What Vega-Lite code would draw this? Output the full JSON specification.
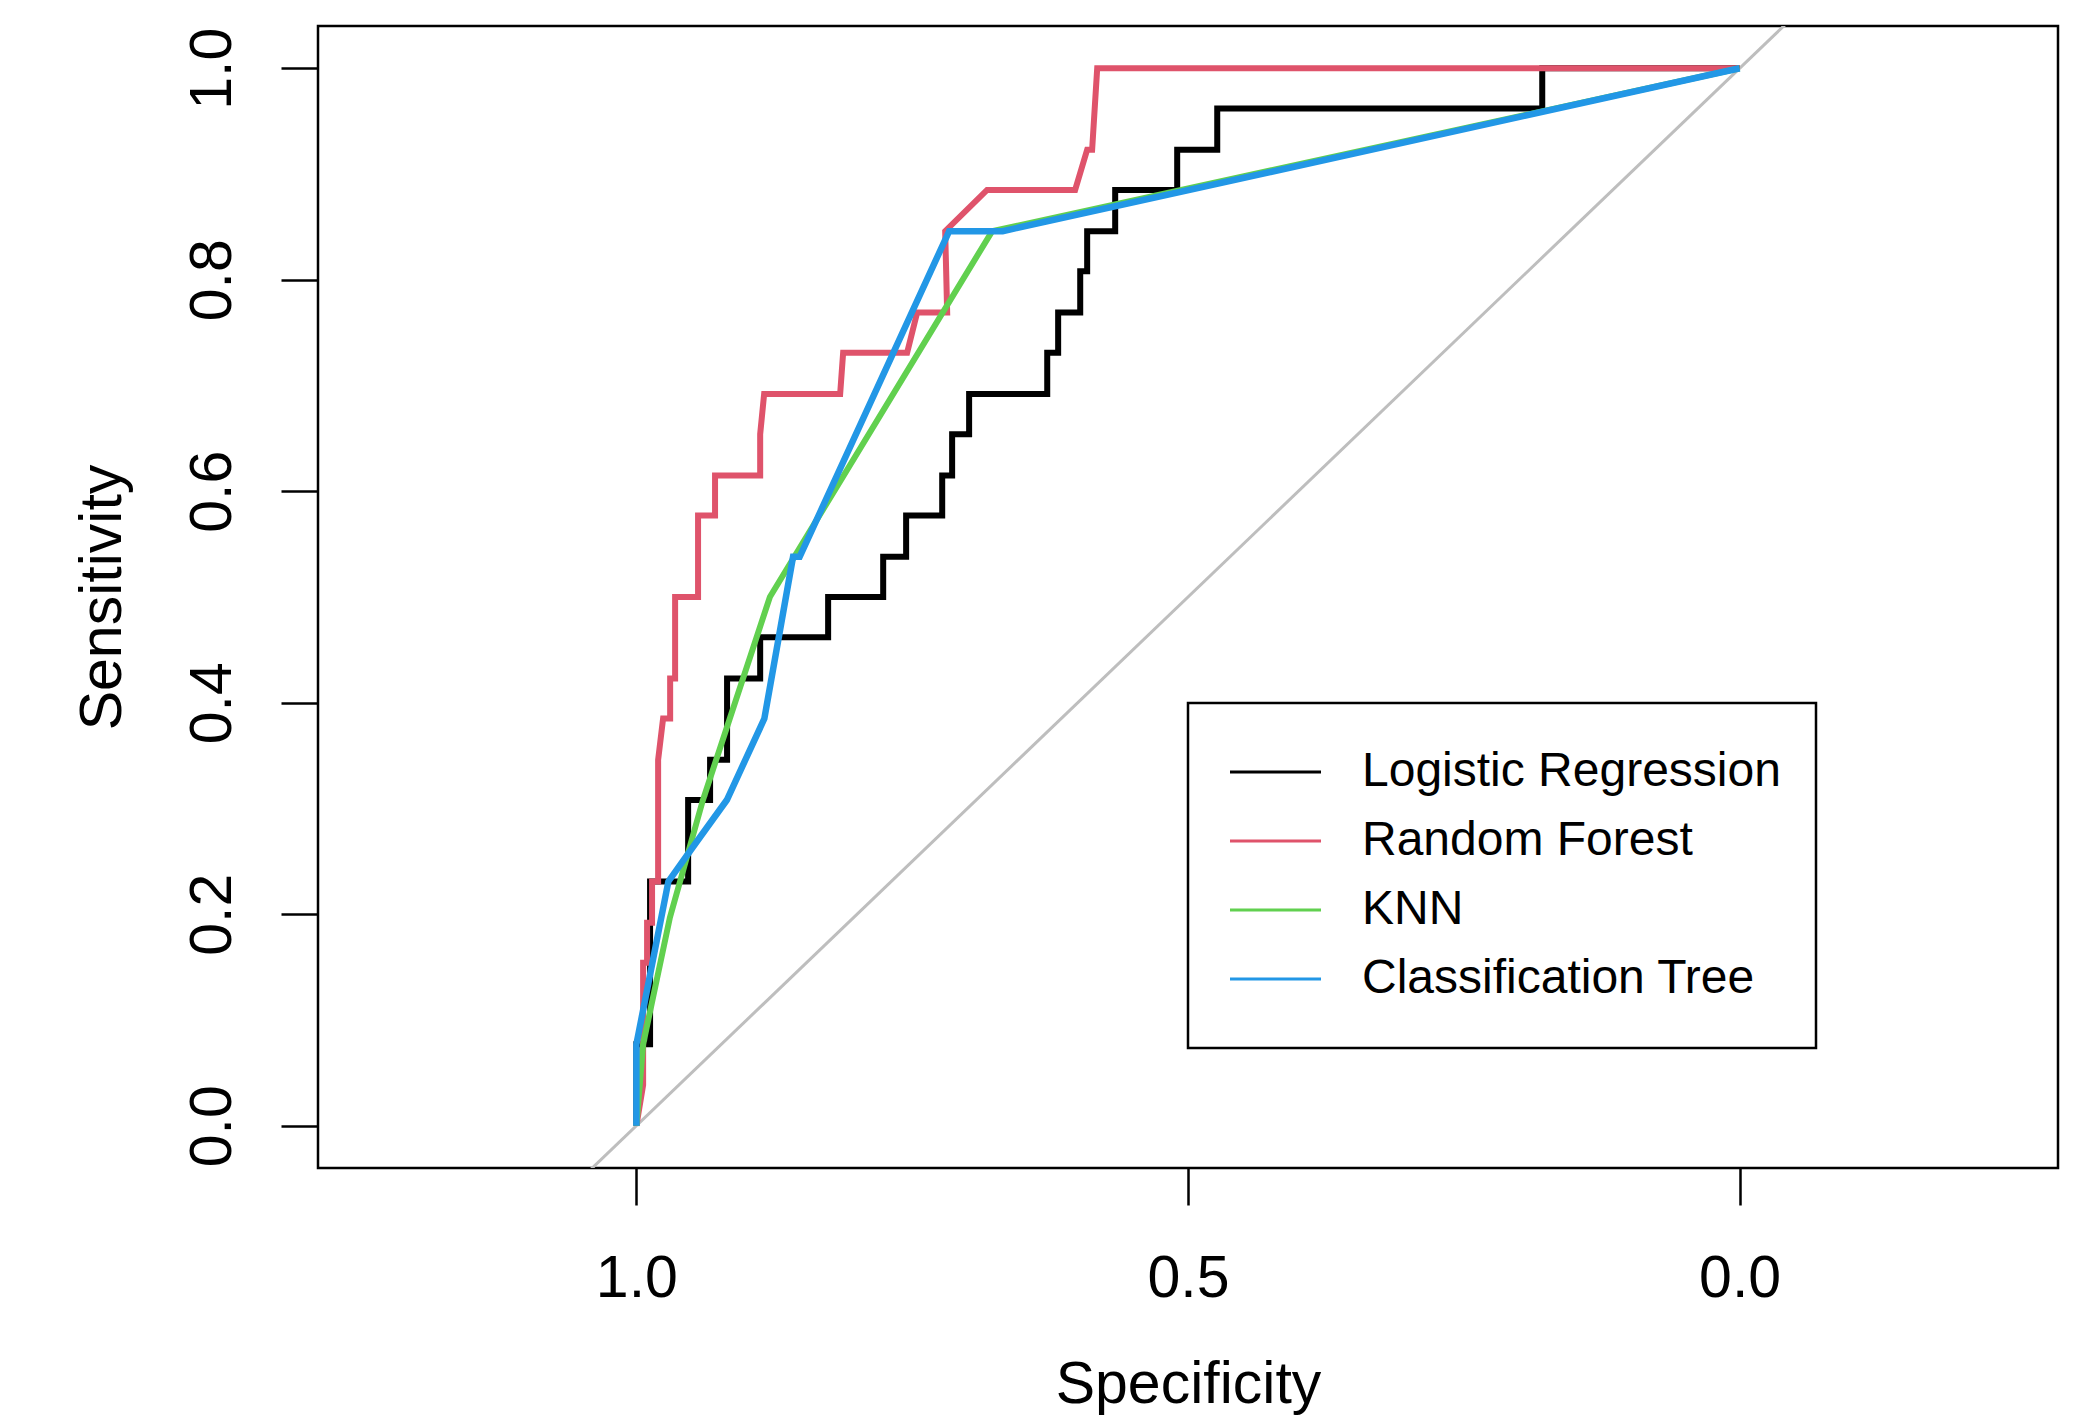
{
  "$schema": "https://vega.github.io/schema/vega-lite/v6.json",
  "width": 1740,
  "height": 1142,
  "autosize": {"type": "none"},
  "padding": {"left": 318, "top": 26, "right": 30, "bottom": 251},
  "background": "white",
  "datasets": {
    "diag": [{"spec": -0.4, "sens": 1.4}, {"spec": 1.4, "sens": -0.4}],
    "roc": [
      {"model": "Logistic Regression", "i": 0, "spec": 1, "sens": 0},
      {"model": "Logistic Regression", "i": 1, "spec": 1, "sens": 0.077},
      {"model": "Logistic Regression", "i": 2, "spec": 0.9876, "sens": 0.077},
      {"model": "Logistic Regression", "i": 3, "spec": 0.9876, "sens": 0.231},
      {"model": "Logistic Regression", "i": 4, "spec": 0.9531, "sens": 0.231},
      {"model": "Logistic Regression", "i": 5, "spec": 0.9531, "sens": 0.308},
      {"model": "Logistic Regression", "i": 6, "spec": 0.9332, "sens": 0.308},
      {"model": "Logistic Regression", "i": 7, "spec": 0.9332, "sens": 0.346},
      {"model": "Logistic Regression", "i": 8, "spec": 0.9178, "sens": 0.346},
      {"model": "Logistic Regression", "i": 9, "spec": 0.9178, "sens": 0.423},
      {"model": "Logistic Regression", "i": 10, "spec": 0.8878, "sens": 0.423},
      {"model": "Logistic Regression", "i": 11, "spec": 0.8878, "sens": 0.462},
      {"model": "Logistic Regression", "i": 12, "spec": 0.8262, "sens": 0.462},
      {"model": "Logistic Regression", "i": 13, "spec": 0.8262, "sens": 0.5},
      {"model": "Logistic Regression", "i": 14, "spec": 0.7763, "sens": 0.5},
      {"model": "Logistic Regression", "i": 15, "spec": 0.7763, "sens": 0.538},
      {"model": "Logistic Regression", "i": 16, "spec": 0.7555, "sens": 0.538},
      {"model": "Logistic Regression", "i": 17, "spec": 0.7555, "sens": 0.577},
      {"model": "Logistic Regression", "i": 18, "spec": 0.7228, "sens": 0.577},
      {"model": "Logistic Regression", "i": 19, "spec": 0.7228, "sens": 0.615},
      {"model": "Logistic Regression", "i": 20, "spec": 0.7138, "sens": 0.615},
      {"model": "Logistic Regression", "i": 21, "spec": 0.7138, "sens": 0.654},
      {"model": "Logistic Regression", "i": 22, "spec": 0.6984, "sens": 0.654},
      {"model": "Logistic Regression", "i": 23, "spec": 0.6984, "sens": 0.692},
      {"model": "Logistic Regression", "i": 24, "spec": 0.6276, "sens": 0.692},
      {"model": "Logistic Regression", "i": 25, "spec": 0.6276, "sens": 0.731},
      {"model": "Logistic Regression", "i": 26, "spec": 0.6177, "sens": 0.731},
      {"model": "Logistic Regression", "i": 27, "spec": 0.6177, "sens": 0.769},
      {"model": "Logistic Regression", "i": 28, "spec": 0.5977, "sens": 0.769},
      {"model": "Logistic Regression", "i": 29, "spec": 0.5977, "sens": 0.808},
      {"model": "Logistic Regression", "i": 30, "spec": 0.5914, "sens": 0.808},
      {"model": "Logistic Regression", "i": 31, "spec": 0.5914, "sens": 0.846},
      {"model": "Logistic Regression", "i": 32, "spec": 0.566, "sens": 0.846},
      {"model": "Logistic Regression", "i": 33, "spec": 0.566, "sens": 0.885},
      {"model": "Logistic Regression", "i": 34, "spec": 0.5098, "sens": 0.885},
      {"model": "Logistic Regression", "i": 35, "spec": 0.5098, "sens": 0.923},
      {"model": "Logistic Regression", "i": 36, "spec": 0.4735, "sens": 0.923},
      {"model": "Logistic Regression", "i": 37, "spec": 0.4735, "sens": 0.962},
      {"model": "Logistic Regression", "i": 38, "spec": 0.1789, "sens": 0.962},
      {"model": "Logistic Regression", "i": 39, "spec": 0.1789, "sens": 1},
      {"model": "Logistic Regression", "i": 40, "spec": 0, "sens": 1},
      {"model": "Random Forest", "i": 0, "spec": 1, "sens": 0},
      {"model": "Random Forest", "i": 1, "spec": 0.9939, "sens": 0.0385},
      {"model": "Random Forest", "i": 2, "spec": 0.9939, "sens": 0.154},
      {"model": "Random Forest", "i": 3, "spec": 0.9903, "sens": 0.154},
      {"model": "Random Forest", "i": 4, "spec": 0.9903, "sens": 0.192},
      {"model": "Random Forest", "i": 5, "spec": 0.9858, "sens": 0.192},
      {"model": "Random Forest", "i": 6, "spec": 0.9858, "sens": 0.231},
      {"model": "Random Forest", "i": 7, "spec": 0.9803, "sens": 0.231},
      {"model": "Random Forest", "i": 8, "spec": 0.9803, "sens": 0.346},
      {"model": "Random Forest", "i": 9, "spec": 0.9758, "sens": 0.385},
      {"model": "Random Forest", "i": 10, "spec": 0.9694, "sens": 0.385},
      {"model": "Random Forest", "i": 11, "spec": 0.9694, "sens": 0.423},
      {"model": "Random Forest", "i": 12, "spec": 0.9649, "sens": 0.423},
      {"model": "Random Forest", "i": 13, "spec": 0.9649, "sens": 0.5},
      {"model": "Random Forest", "i": 14, "spec": 0.9441, "sens": 0.5},
      {"model": "Random Forest", "i": 15, "spec": 0.9441, "sens": 0.577},
      {"model": "Random Forest", "i": 16, "spec": 0.9287, "sens": 0.577},
      {"model": "Random Forest", "i": 17, "spec": 0.9287, "sens": 0.615},
      {"model": "Random Forest", "i": 18, "spec": 0.8878, "sens": 0.615},
      {"model": "Random Forest", "i": 19, "spec": 0.8878, "sens": 0.654},
      {"model": "Random Forest", "i": 20, "spec": 0.8842, "sens": 0.692},
      {"model": "Random Forest", "i": 21, "spec": 0.8153, "sens": 0.692},
      {"model": "Random Forest", "i": 22, "spec": 0.8126, "sens": 0.731},
      {"model": "Random Forest", "i": 23, "spec": 0.7546, "sens": 0.731},
      {"model": "Random Forest", "i": 24, "spec": 0.7455, "sens": 0.769},
      {"model": "Random Forest", "i": 25, "spec": 0.7183, "sens": 0.769},
      {"model": "Random Forest", "i": 26, "spec": 0.7201, "sens": 0.846},
      {"model": "Random Forest", "i": 27, "spec": 0.6821, "sens": 0.885},
      {"model": "Random Forest", "i": 28, "spec": 0.6023, "sens": 0.885},
      {"model": "Random Forest", "i": 29, "spec": 0.5914, "sens": 0.923},
      {"model": "Random Forest", "i": 30, "spec": 0.5869, "sens": 0.923},
      {"model": "Random Forest", "i": 31, "spec": 0.5823, "sens": 1},
      {"model": "Random Forest", "i": 32, "spec": 0, "sens": 1},
      {"model": "KNN", "i": 0, "spec": 1, "sens": 0},
      {"model": "KNN", "i": 1, "spec": 0.9939, "sens": 0.077},
      {"model": "KNN", "i": 2, "spec": 0.9696, "sens": 0.197},
      {"model": "KNN", "i": 3, "spec": 0.9397, "sens": 0.308},
      {"model": "KNN", "i": 4, "spec": 0.879, "sens": 0.5},
      {"model": "KNN", "i": 5, "spec": 0.6775, "sens": 0.846},
      {"model": "KNN", "i": 6, "spec": 0, "sens": 1},
      {"model": "Classification Tree", "i": 0, "spec": 1, "sens": 0},
      {"model": "Classification Tree", "i": 1, "spec": 1, "sens": 0.077},
      {"model": "Classification Tree", "i": 2, "spec": 0.971, "sens": 0.231},
      {"model": "Classification Tree", "i": 3, "spec": 0.945, "sens": 0.269},
      {"model": "Classification Tree", "i": 4, "spec": 0.918, "sens": 0.308},
      {"model": "Classification Tree", "i": 5, "spec": 0.884, "sens": 0.385},
      {"model": "Classification Tree", "i": 6, "spec": 0.858, "sens": 0.538},
      {"model": "Classification Tree", "i": 7, "spec": 0.852, "sens": 0.538},
      {"model": "Classification Tree", "i": 8, "spec": 0.7165, "sens": 0.846},
      {"model": "Classification Tree", "i": 9, "spec": 0.668, "sens": 0.846},
      {"model": "Classification Tree", "i": 10, "spec": 0, "sens": 1}
    ]
  },
  "encoding": {
    "x": {
      "field": "spec", "type": "quantitative",
      "scale": {"domain": [-0.2886, 1.2886], "reverse": true, "nice": false, "zero": false},
      "axis": {"values": [0, 0.5, 1], "format": ".1f", "title": "Specificity",
               "labelPadding": 44, "titleBaseline": "alphabetic", "titleY": 234, "titleX": 870, "titleAlign": "center"}
    },
    "y": {
      "field": "sens", "type": "quantitative",
      "scale": {"domain": [-0.04, 1.04], "nice": false, "zero": false},
      "axis": {"values": [0, 0.2, 0.4, 0.6, 0.8, 1], "format": ".1f", "title": "Sensitivity",
               "labelAngle": 270, "labelAlign": "center", "labelBaseline": "alphabetic", "labelPadding": 51,
               "titleAngle": 270, "titleBaseline": "alphabetic", "titleAlign": "center", "titleX": -198, "titleY": 571}
    }
  },
  "layer": [
    {
      "data": {"name": "diag"},
      "mark": {"type": "line", "color": "#BEBEBE", "strokeWidth": 3, "clip": true}
    },
    {
      "data": {"name": "roc"},
      "transform": [{"filter": "datum.model === 'Logistic Regression'"}],
      "mark": {"type": "line", "strokeWidth": 6, "clip": true},
      "encoding": {
        "order": {"field": "i", "type": "quantitative"},
        "color": {"field": "model", "type": "nominal",
                  "scale": {"domain": ["Logistic Regression", "Random Forest", "KNN", "Classification Tree"], "range": ["#000000", "#DF536B", "#61D04F", "#2297E6"]},
                  "legend": {"title": null}}
      }
    },
    {
      "data": {"name": "roc"},
      "transform": [{"filter": "datum.model === 'Random Forest'"}],
      "mark": {"type": "line", "strokeWidth": 6, "clip": true},
      "encoding": {
        "order": {"field": "i", "type": "quantitative"},
        "color": {"field": "model", "type": "nominal",
                  "scale": {"domain": ["Logistic Regression", "Random Forest", "KNN", "Classification Tree"], "range": ["#000000", "#DF536B", "#61D04F", "#2297E6"]},
                  "legend": {"title": null}}
      }
    },
    {
      "data": {"name": "roc"},
      "transform": [{"filter": "datum.model === 'KNN'"}],
      "mark": {"type": "line", "strokeWidth": 6, "clip": true},
      "encoding": {
        "order": {"field": "i", "type": "quantitative"},
        "color": {"field": "model", "type": "nominal",
                  "scale": {"domain": ["Logistic Regression", "Random Forest", "KNN", "Classification Tree"], "range": ["#000000", "#DF536B", "#61D04F", "#2297E6"]},
                  "legend": {"title": null}}
      }
    },
    {
      "data": {"name": "roc"},
      "transform": [{"filter": "datum.model === 'Classification Tree'"}],
      "mark": {"type": "line", "strokeWidth": 6.5, "clip": true},
      "encoding": {
        "order": {"field": "i", "type": "quantitative"},
        "color": {"field": "model", "type": "nominal",
                  "scale": {"domain": ["Logistic Regression", "Random Forest", "KNN", "Classification Tree"], "range": ["#000000", "#DF536B", "#61D04F", "#2297E6"]},
                  "legend": {"title": null}}
      }
    }
  ],
  "config": {
    "view": {"stroke": "black", "strokeWidth": 2.5, "fill": "white"},
    "axis": {
      "domain": false, "grid": false, "ticks": true,
      "tickColor": "black", "tickWidth": 2.5, "tickSize": 37,
      "labelFont": "Liberation Sans", "labelFontSize": 59, "labelColor": "black",
      "labelFlush": false, "labelOverlap": false,
      "titleFont": "Liberation Sans", "titleFontSize": 59, "titleFontWeight": "normal", "titleColor": "black"
    },
    "legend": {
      "orient": "none", "legendX": 870, "legendY": 677,
      "strokeColor": "black", "strokeWidth": 2.5, "fillColor": "white",
      "padding": 34.5,
      "symbolType": "stroke", "symbolSize": 8281, "symbolStrokeWidth": 3, "symbolOffset": 6,
      "labelFont": "Liberation Sans", "labelFontSize": 48, "labelColor": "black", "labelOffset": 39.5,
      "labelLimit": 2000,
      "clipHeight": 69, "rowPadding": 0
    }
  }
}
